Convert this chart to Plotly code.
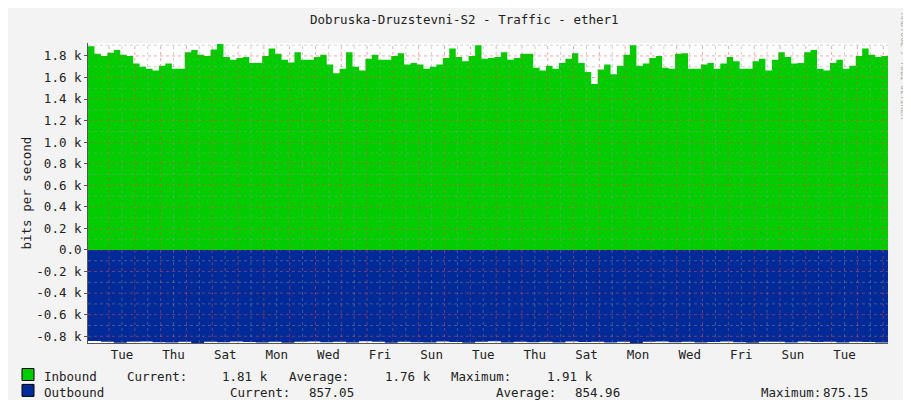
import plotly.graph_objects as go

# Inbound traffic, bits/s, one value per 6 hours (starts -0.815 days before the first Tuesday midnight)
inbound = [1890, 1820, 1800, 1830, 1855, 1810, 1800, 1730, 1700, 1680, 1665, 1710, 1730, 1680, 1680, 1835,
           1855, 1810, 1800, 1860, 1910, 1790, 1765, 1780, 1790, 1735, 1735, 1800, 1870, 1820, 1765,
           1740, 1835, 1765, 1765, 1790, 1810, 1720, 1640, 1680, 1835, 1700, 1665, 1775, 1810, 1765,
           1765, 1800, 1825, 1720, 1735, 1720, 1680, 1700, 1720, 1780, 1870, 1790, 1750, 1800, 1900,
           1775, 1780, 1790, 1835, 1765, 1780, 1820, 1820, 1690, 1665, 1710, 1680, 1735, 1775, 1825,
           1735, 1650, 1540, 1675, 1720, 1630, 1710, 1810, 1900, 1710, 1730, 1780, 1800, 1690, 1680,
           1820, 1825, 1680, 1680, 1720, 1735, 1680, 1730, 1790, 1750, 1680, 1680, 1750, 1775, 1665,
           1765, 1835, 1790, 1730, 1735, 1835, 1855, 1680, 1665, 1735, 1765, 1680, 1710, 1800, 1870,
           1810, 1790, 1800]
# Outbound traffic, bits/s, one value per 12 hours (drawn negative)
outbound = [845, 850, 860, 852, 848, 855, 858, 850, 862, 850, 855, 848, 853, 858, 850, 860, 852,
            849, 856, 851, 858, 847, 852, 860, 850, 855, 857, 849, 853, 861, 850, 846, 858, 852,
            855, 850, 859, 848, 854, 851, 857, 850, 862, 852, 848, 856, 851, 858, 853, 849, 855,
            860, 850, 852, 857, 848, 854, 851, 859, 850, 853, 857]
day_labels = ["Tue", "Thu", "Sat", "Mon", "Wed", "Fri", "Sun", "Tue", "Thu", "Sat", "Mon", "Wed", "Fri", "Sun", "Tue"]
ytick_vals = [-800, -600, -400, -200, 0, 200, 400, 600, 800, 1000, 1200, 1400, 1600, 1800]
ytick_text = ["-0.8 k", "-0.6 k", "-0.4 k", "-0.2 k", "0.0", "0.2 k", "0.4 k", "0.6 k", "0.8 k",
              "1.0 k", "1.2 k", "1.4 k", "1.6 k", "1.8 k"]

t0 = -0.815
x_in = [t0 + i * 0.25 for i in range(len(inbound))] + [t0 + len(inbound) * 0.25]
y_in = inbound + [inbound[-1]]
x_out = [t0 + i * 0.5 for i in range(len(outbound))] + [t0 + len(outbound) * 0.5]
y_out = [-v for v in outbound] + [-outbound[-1]]
xmax = t0 + len(inbound) * 0.25
ymin, ymax = -862.7, 1920

mono = "DejaVu Sans Mono"
fig = go.Figure()
fig.add_trace(go.Scatter(x=x_in, y=y_in, fill="tozeroy", mode="lines", line=dict(width=0, shape="hv"),
                         fillcolor="#00cc00", hoverinfo="skip"))
fig.add_trace(go.Scatter(x=x_out, y=y_out, fill="tozeroy", mode="lines", line=dict(width=0, shape="hv"),
                         fillcolor="#002a97", hoverinfo="skip"))

# grid drawn over the areas like rrdtool
shapes = []
for d in range(0, 61):
    xv = d * 0.5
    if xv > xmax:
        break
    col = "rgba(230,80,80,0.5)" if d % 2 == 0 else "rgba(150,150,150,0.45)"
    shapes.append(dict(type="line", xref="x", yref="paper", x0=xv, x1=xv, y0=0, y1=1, layer="above",
                       line=dict(color=col, width=1, dash="dot")))
for k in range(-8, 20):
    yv = k * 100
    col = "rgba(230,80,80,0.5)" if k % 2 == 0 else "rgba(150,150,150,0.45)"
    shapes.append(dict(type="line", xref="paper", yref="y", x0=0, x1=1, y0=yv, y1=yv, layer="above",
                       line=dict(color=col, width=1, dash="dot")))
# legend colour boxes
shapes.append(dict(type="rect", xref="paper", yref="paper", x0=-0.0825, x1=-0.0675, y0=-0.085, y1=-0.125,
                   fillcolor="#00cc00", line=dict(color="black", width=1)))
shapes.append(dict(type="rect", xref="paper", yref="paper", x0=-0.0825, x1=-0.0675, y0=-0.138, y1=-0.178,
                   fillcolor="#002a97", line=dict(color="black", width=1)))

# axis arrows
fig.add_trace(go.Scatter(x=[t0, xmax + 0.1], y=[ymax + 25, ymin], mode="markers", cliponaxis=False,
                         marker=dict(symbol=["triangle-up", "triangle-right"], size=6, color="#8b1a1a"),
                         hoverinfo="skip"))

ann = [dict(text="Dobruska-Druzstevni-S2 - Traffic - ether1", x=0.47, y=1.0, xref="paper", yref="paper",
            yshift=14, yanchor="bottom", showarrow=False, font=dict(size=12.5)),
       dict(text="bits per second", x=-0.09, y=0.5, xref="paper", yref="paper", textangle=-90,
            showarrow=False, font=dict(size=12.5)),
       dict(text="RRDTOOL / TOBI OETIKER", x=1.028, y=1.0, xref="paper", yref="paper", yshift=32,
            textangle=90, yanchor="top", showarrow=False, font=dict(size=8, color="#aaaaaa"))]

def legend_text(txt, px, py):
    ann.append(dict(text=txt, x=(px - 80) / 800, y=(335 - py) / 300, xref="paper", yref="paper",
                    xanchor="left", yanchor="middle", showarrow=False, font=dict(size=12.5)))

row1 = [("Inbound", 34), ("Current:", 117), ("1.81 k", 212), ("Average:", 279), ("1.76 k", 375),
        ("Maximum:", 441), ("1.91 k", 537)]
row2 = [("Outbound", 34), ("Current:", 220), ("857.05", 299), ("Average:", 486), ("854.96", 565),
        ("Maximum:", 751), ("875.15", 813)]
for txt, px in row1:
    legend_text(txt, px, 368)
for txt, px in row2:
    legend_text(txt, px, 384)

fig.update_layout(
    width=911, height=400, showlegend=False,
    margin=dict(l=80, r=31, t=35, b=65, autoexpand=False),
    paper_bgcolor="#f3f3f3", plot_bgcolor="white",
    font=dict(family=mono, size=12.5, color="#222222"),
    shapes=shapes, annotations=ann,
)
fig.update_xaxes(range=[t0, xmax], tickvals=[d + 0.5 for d in range(0, 30, 2)], ticktext=day_labels,
                 showgrid=False, zeroline=False, showline=True, linecolor="#555555", ticks="",
                 automargin=False, fixedrange=True)
fig.update_yaxes(range=[ymin, ymax], tickvals=ytick_vals, ticktext=ytick_text, showgrid=False,
                 zeroline=False, showline=True, linecolor="#555555", ticks="outside", ticklen=3,
                 tickcolor="#555555", automargin=False, fixedrange=True)

fig.write_html("out.html")
